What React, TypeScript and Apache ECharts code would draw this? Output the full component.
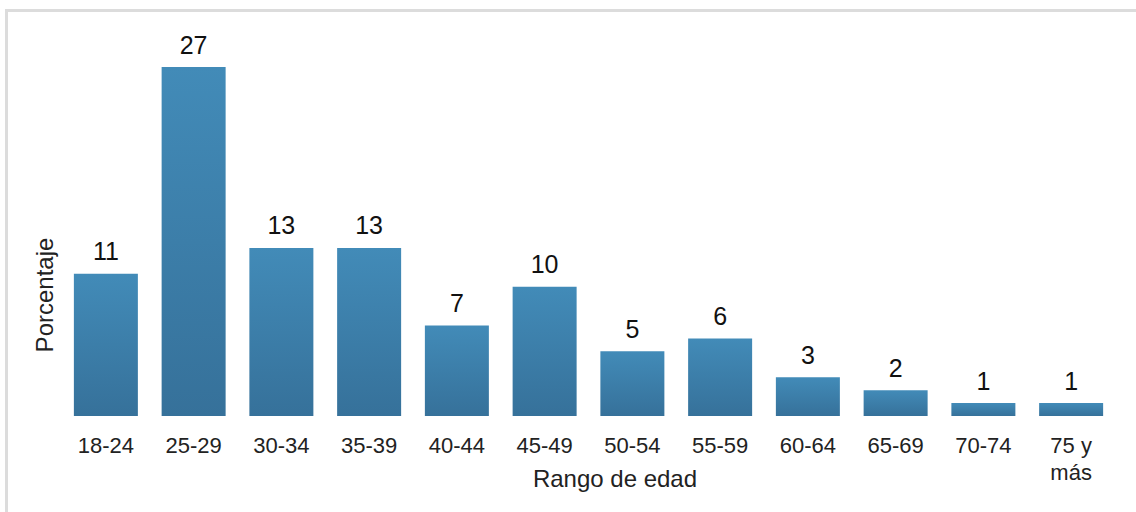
import React, { useEffect, useRef } from "react";
import * as echarts from "echarts";

const categories = ["18-24", "25-29", "30-34", "35-39", "40-44", "45-49", "50-54", "55-59", "60-64", "65-69", "70-74", "75 y\nmás"];
const values = [11, 27, 13, 13, 7, 10, 5, 6, 3, 2, 1, 1];
const xAxisTitle = "Rango de edad";
const yAxisTitle = "Porcentaje";

const FONT = "Liberation Sans, Arial, sans-serif";

export default function App() {
  const ref = useRef<HTMLDivElement>(null);
  useEffect(() => {
    const chart = echarts.init(ref.current!, null, { renderer: "svg" });
    chart.setOption({
      animation: false,
      backgroundColor: "#ffffff",
      grid: { left: 62, right: 21, top: 67, bottom: 96 },
      xAxis: {
        type: "category",
        data: categories,
        axisLine: { show: false },
        axisTick: { show: false },
        axisLabel: {
          color: "#222",
          fontSize: 22,
          fontFamily: FONT,
          margin: 16,
          lineHeight: 27,
          interval: 0,
        },
      },
      yAxis: {
        type: "value",
        min: 0,
        max: 27,
        show: false,
      },
      series: [
        {
          type: "bar",
          data: values,
          barWidth: 64,
          itemStyle: {
            color: new echarts.graphic.LinearGradient(0, 0, 0, 1, [
              { offset: 0, color: "#428bb8" },
              { offset: 1, color: "#36719a" },
            ]),
          },
          label: {
            show: true,
            position: "top",
            distance: 10,
            color: "#111",
            fontSize: 25,
            fontFamily: FONT,
          },
        },
      ],
      graphic: [
        {
          type: "rect",
          shape: { x: 6.5, y: 10.5, width: 1140, height: 510 },
          style: { fill: "none", stroke: "#dcdcdc", lineWidth: 3 },
          silent: true,
        },
        {
          type: "text",
          x: 615,
          y: 478,
          style: {
            text: xAxisTitle,
            fill: "#222",
            fontSize: 24,
            fontFamily: FONT,
            align: "center",
            verticalAlign: "middle",
          },
        },
        {
          type: "text",
          x: 44,
          y: 295,
          rotation: Math.PI / 2,
          style: {
            text: yAxisTitle,
            fill: "#222",
            fontSize: 24,
            fontFamily: FONT,
            align: "center",
            verticalAlign: "middle",
          },
        },
      ],
    });
    return () => chart.dispose();
  }, []);
  return <div ref={ref} style={{ position: "fixed", left: 0, top: 0, width: 1136, height: 512 }} />;
}
